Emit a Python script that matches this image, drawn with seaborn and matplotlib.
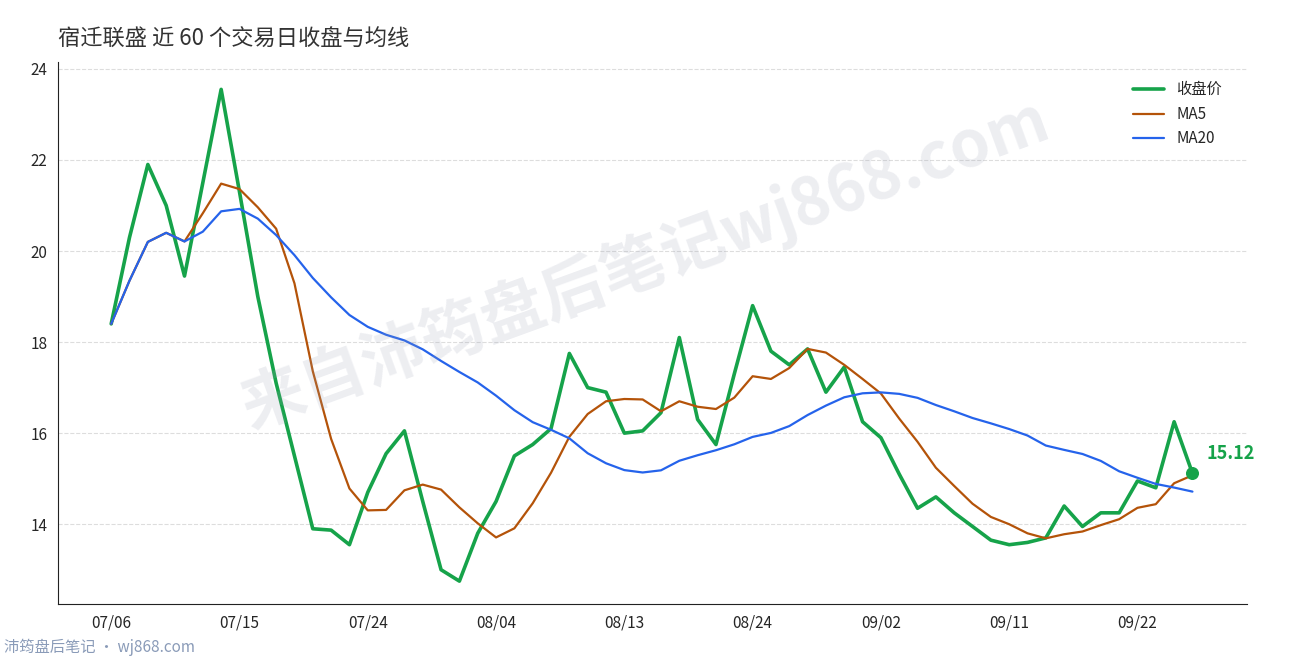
import numpy as np
import pandas as pd
import matplotlib.pyplot as plt
import seaborn as sns

title = "宿迁联盛 近 60 个交易日收盘与均线"
close = [18.4, 20.3, 21.9, 21.0, 19.45, 21.5, 23.55, 21.3, 19.0, 17.1,
         15.5, 13.9, 13.87, 13.55, 14.7, 15.55, 16.05, 14.5, 13.0, 12.75,
         13.8, 14.5, 15.5, 15.75, 16.1, 17.75, 17.0, 16.9, 16.0, 16.05,
         16.45, 18.1, 16.3, 15.75, 17.3, 18.8, 17.8, 17.5, 17.85, 16.9,
         17.45, 16.25, 15.9, 15.1, 14.35, 14.6, 14.25, 13.95, 13.65, 13.55,
         13.6, 13.7, 14.4, 13.95, 14.25, 14.25, 14.95, 14.8, 16.25, 15.12]
tick_pos = [0, 7, 14, 21, 28, 35, 42, 49, 56]
tick_labels = ["07/06", "07/15", "07/24", "08/04", "08/13", "08/24", "09/02", "09/11", "09/22"]

df = pd.DataFrame({"i": np.arange(len(close)), "close": close})
df["ma5"] = df["close"].rolling(5, min_periods=1).mean()
df["ma20"] = df["close"].rolling(20, min_periods=1).mean()

sns.set_style("white")
plt.rcParams["font.family"] = ["Noto Sans CJK SC", "DejaVu Sans"]

fig = plt.figure(figsize=(12.9, 6.6), dpi=100)
ax = fig.add_axes([0.045, 0.085, 0.922, 0.821])

green, orange, blue = "#16a34a", "#b45309", "#2563eb"
sns.lineplot(data=df, x="i", y="close", ax=ax, color=green, lw=2.6, label="收盘价")
sns.lineplot(data=df, x="i", y="ma5", ax=ax, color=orange, lw=1.6, label="MA5")
sns.lineplot(data=df, x="i", y="ma20", ax=ax, color=blue, lw=1.6, label="MA20")

last = df.iloc[-1]
ax.scatter([last["i"]], [last["close"]], color=green, s=70, zorder=5)
ax.annotate(f"{last['close']:.2f}", (last["i"], last["close"]), xytext=(10, 10),
            textcoords="offset points", color=green, fontsize=13, fontweight="bold")

ax.set_xlim(-2.9, 62)
ax.set_ylim(12.25, 24.15)
ax.set_yticks([14, 16, 18, 20, 22, 24])
ax.set_xticks(tick_pos)
ax.set_xticklabels(tick_labels)
ax.tick_params(labelsize=11, length=4, color="#333")
ax.set_xlabel("")
ax.set_ylabel("")
ax.grid(axis="y", ls="--", color="#dddddd", lw=0.8)
for s in ["top", "right"]:
    ax.spines[s].set_visible(False)
for s in ["left", "bottom"]:
    ax.spines[s].set_color("#222")

ax.legend(loc="upper right", frameon=False, fontsize=11, bbox_to_anchor=(0.99, 0.99))

fig.text(0.045, 0.93, title, fontsize=16, color="#333")
fig.text(0.5, 0.6, "来自沛筠盘后笔记wj868.com", fontsize=46, color="#9aa0b4", alpha=0.18,
         rotation=20, ha="center", va="center", fontweight="bold")
fig.text(0.003, 0.012, "沛筠盘后笔记 · wj868.com", fontsize=11, color="#8a9bb8")

fig.savefig("out.png", dpi=100)
